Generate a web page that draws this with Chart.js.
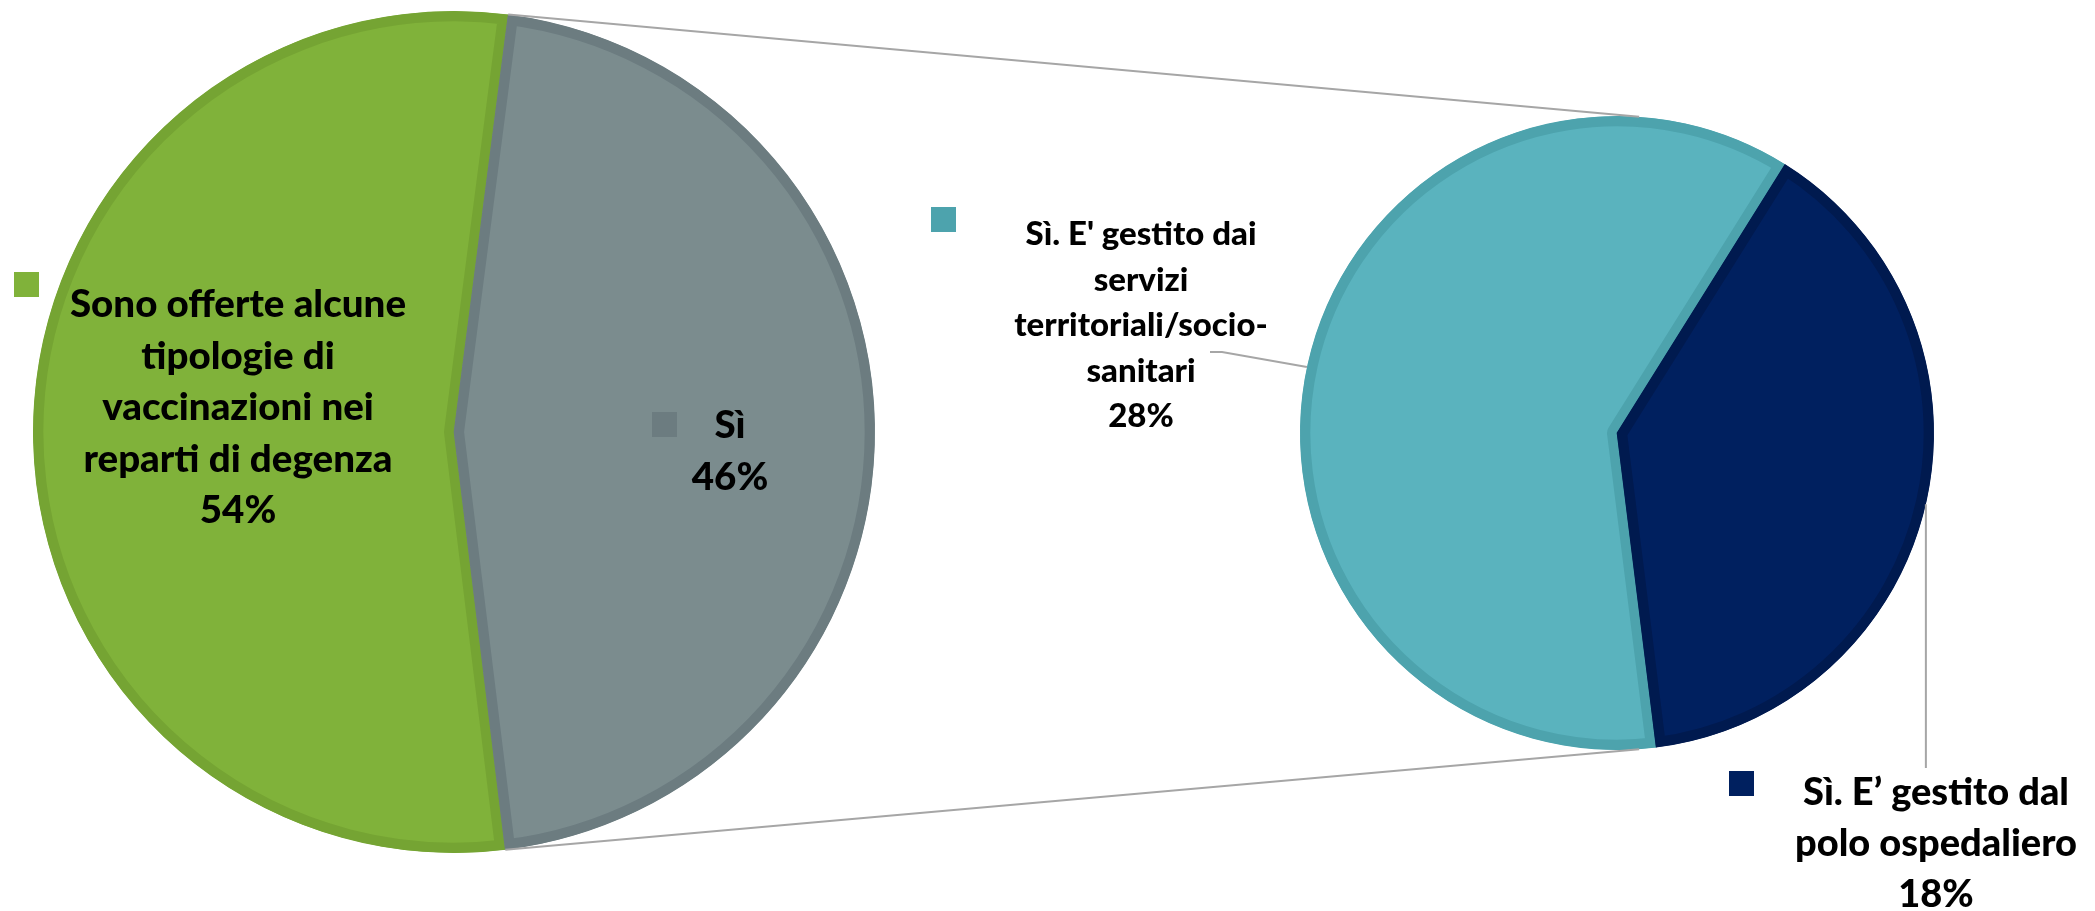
<!DOCTYPE html>
<html>
<head>
<meta charset="utf-8">
<script src="https://cdn.jsdelivr.net/npm/chart.js@4.4.1/dist/chart.umd.min.js"></script>
<style>
  html, body { margin: 0; padding: 0; background: #fff; overflow: hidden; }
  #wrap { position: relative; width: 2095px; height: 911px; }
  #wrap canvas { position: absolute; left: 0; top: 0; }
</style>
</head>
<body>
<div id="wrap">
  <canvas id="mainPie" width="2095" height="911"></canvas>
  <canvas id="subPie" width="2095" height="911"></canvas>
</div>
<script>
// main pie
const mainLabels = ["Sono offerte alcune tipologie di vaccinazioni nei reparti di degenza", "Sì"];
const mainValues = [54, 46];
// secondary pie (breakdown of "Sì")
const subLabels = ["Sì. E' gestito dai servizi territoriali/socio-sanitari", "Sì. E’ gestito dal polo ospedaliero"];
const subValues = [28, 18];

// label text broken over lines like the original
const mainLabelLines = [["Sono offerte alcune", "tipologie di", "vaccinazioni nei", "reparti di degenza"], ["Sì"]];
const subLabelLines = [["Sì. E' gestito dai", "servizi", "territoriali/socio-", "sanitari"], ["Sì. E’ gestito dal", "polo ospedaliero"]];

const mainColors = ["#80B23A", "#7B8C8E"];
const mainBorders = ["#75A433", "#6C7C80"];
const subColors = ["#5AB3BE", "#00205F"];
const subBorders = ["#4DA3AD", "#001A4F"];

const FONT = "Lato, 'Open Sans', sans-serif";
const total = mainValues.reduce((a, b) => a + b, 0);

// label placement, offsets from the pie centre
const mainLayout = [
  { dx: -216, dy: -115, lh: 51.5, size: 38.5, keyX: -440, keyY: -160 },
  { dx: 276, dy: 6, lh: 52, size: 38.5, keyX: 198, keyY: -20 }
];
const subLayout = [
  { dx: -476, dy: -188, lh: 45.5, size: 33, keyX: -686, keyY: -226 },
  { dx: 319, dy: 372, lh: 51, size: 38, keyX: 112, keyY: 338 }
];

function drawLabels(chart, linesList, layout, keyColors) {
  const ctx = chart.ctx;
  const arc = chart.getDatasetMeta(0).data[0];
  const cx = arc.x, cy = arc.y;
  const values = chart.data.datasets[0].data;
  ctx.save();
  values.forEach((v, i) => {
    const L = layout[i];
    ctx.fillStyle = keyColors[i];
    ctx.fillRect(cx + L.keyX, cy + L.keyY, 25, 25);
    const lines = linesList[i].concat([Math.round(v / total * 100) + "%"]);
    ctx.fillStyle = "#000";
    ctx.font = "900 " + L.size + "px " + FONT;
    ctx.textAlign = "center";
    ctx.textBaseline = "alphabetic";
    lines.forEach((t, k) => ctx.fillText(t, cx + L.dx, cy + L.dy + k * L.lh));
  });
  ctx.restore();
}

const mainLabelPlugin = {
  id: "mainLabels",
  afterDatasetsDraw(chart) {
    drawLabels(chart, mainLabelLines, mainLayout, [mainColors[0], mainBorders[1]]);
  }
};

const mainChart = new Chart(document.getElementById("mainPie"), {
  type: "pie",
  data: {
    labels: mainLabels,
    datasets: [{
      data: mainValues,
      backgroundColor: mainColors,
      borderColor: mainBorders,
      borderWidth: 10,
      borderAlign: "inner",
      hoverOffset: 0
    }]
  },
  options: {
    responsive: false,
    animation: false,
    events: [],
    rotation: 173,
    layout: { padding: { left: 33, top: 11, right: 1220, bottom: 58 } },
    plugins: { legend: { display: false }, tooltip: { enabled: false } }
  },
  plugins: [mainLabelPlugin]
});

function arcPoint(arc, angleDeg) {
  const a = angleDeg * Math.PI / 180;
  return [arc.x + arc.outerRadius * Math.cos(a), arc.y + arc.outerRadius * Math.sin(a)];
}

const subPlugin = {
  id: "subExtras",
  afterDatasetsDraw(chart) {
    const ctx = chart.ctx;
    const sub = chart.getDatasetMeta(0).data[0];
    const other = mainChart.getDatasetMeta(0).data[1];
    ctx.save();
    ctx.strokeStyle = "#A6A6A6";
    ctx.lineWidth = 2;
    // connector lines between the "Sì" slice and the secondary pie
    const p1 = [other.x + other.outerRadius * Math.cos(other.startAngle), other.y + other.outerRadius * Math.sin(other.startAngle)];
    const p2 = [other.x + other.outerRadius * Math.cos(other.endAngle), other.y + other.outerRadius * Math.sin(other.endAngle)];
    const q1 = arcPoint(sub, -86);
    const q2 = arcPoint(sub, 86);
    ctx.beginPath();
    ctx.moveTo(p1[0], p1[1]); ctx.lineTo(q1[0], q1[1]);
    ctx.moveTo(p2[0], p2[1]); ctx.lineTo(q2[0], q2[1]);
    ctx.stroke();
    // leader lines
    const t = arcPoint(sub, 192);
    ctx.beginPath();
    ctx.moveTo(sub.x - 407, sub.y - 81);
    ctx.lineTo(sub.x - 395, sub.y - 81);
    ctx.lineTo(t[0], t[1]);
    const n = arcPoint(sub, 13);
    ctx.moveTo(n[0], n[1]);
    ctx.lineTo(n[0], sub.y + 335);
    ctx.stroke();
    ctx.restore();
    drawLabels(chart, subLabelLines, subLayout, [subBorders[0], subColors[1]]);
  }
};

new Chart(document.getElementById("subPie"), {
  type: "pie",
  data: {
    labels: subLabels,
    datasets: [{
      data: subValues,
      backgroundColor: subColors,
      borderColor: subBorders,
      borderWidth: 10,
      borderAlign: "inner",
      hoverOffset: 0
    }]
  },
  options: {
    responsive: false,
    animation: false,
    events: [],
    rotation: 172.9,
    layout: { padding: { left: 1300, top: 116, right: 161, bottom: 161 } },
    plugins: { legend: { display: false }, tooltip: { enabled: false } }
  },
  plugins: [subPlugin]
});
</script>
</body>
</html>
